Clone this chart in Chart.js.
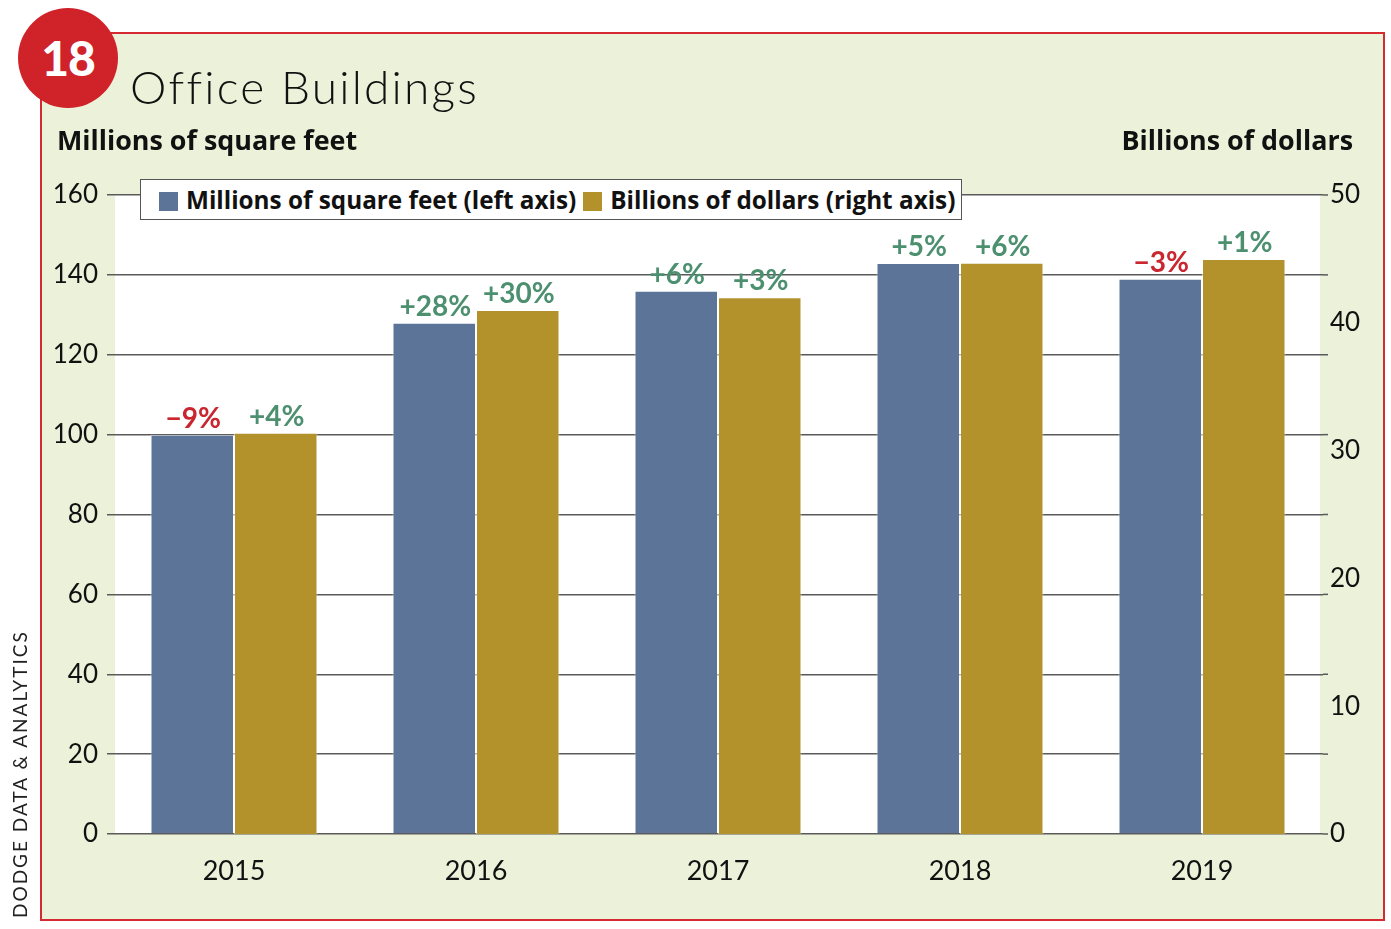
<!DOCTYPE html>
<html>
<head>
<meta charset="utf-8">
<script src="https://cdn.jsdelivr.net/npm/chart.js@4.4.0/dist/chart.umd.min.js"></script>
<style>
  html, body { margin: 0; padding: 0; background: #fff; }
  #wrap { position: relative; width: 1391px; height: 929px; background: #fff; font-family: Lato, "Open Sans", sans-serif; }
  #frame { position: absolute; left: 40px; top: 32px; width: 1341px; height: 885px; background: #ecf2d9; border: 2px solid #d42a30; }
  #chartBox { position: absolute; left: 0; top: 0; width: 1391px; height: 929px; }
  #badge { position: absolute; left: 18px; top: 8px; width: 100px; height: 100px; border-radius: 50%; background: #cf2229; color: #fff; font-weight: 900; font-size: 48px; line-height: 100px; text-align: center; letter-spacing: -1px; }
  #title { position: absolute; left: 130px; top: 62px; font-size: 46px; font-weight: 300; line-height: 50px; letter-spacing: 2.2px; color: #111; }
  .axTitle { position: absolute; top: 124px; font-family: "Open Sans", sans-serif; font-size: 26.9px; font-weight: 700; line-height: 32px; color: #111; }
  #legend { position: absolute; left: 140px; top: 179px; width: 820px; height: 39px; background: #fff; border: 1.5px solid #555; font-family: "Open Sans", sans-serif; font-size: 24.3px; font-weight: 700; line-height: 39px; color: #111; white-space: nowrap; }
  #legend span.sw { display: inline-block; width: 19px; height: 19px; vertical-align: -2px; margin-right: 8px; }
  #source { position: absolute; left: 8px; top: 918px; transform-origin: 0 0; transform: rotate(-90deg); font-size: 19px; letter-spacing: 2px; color: #222; white-space: nowrap; }
</style>
</head>
<body>
<div id="wrap">
  <div id="frame"></div>
  <div id="chartBox"><canvas id="grafico"></canvas></div>
  <div id="badge">18</div>
  <div id="title">Office Buildings</div>
  <div class="axTitle" style="left:57px;">Millions of square feet</div>
  <div class="axTitle" style="right:38px;">Billions of dollars</div>
  <div id="legend"><span style="margin-left:18px"></span><span class="sw" style="background:#5b7498"></span>Millions of square feet (left axis)<span class="sw" style="background:#b3922c;margin-left:7px"></span>Billions of dollars (right axis)</div>
  <div id="source">DODGE DATA &amp; ANALYTICS</div>
</div>
<script>
// dados
var anos = ["2015", "2016", "2017", "2018", "2019"];
var pesQuadrados = [100, 128, 136, 143, 139];   // millions of sq ft
var dolares = [31.4, 41.0, 42.0, 44.7, 45.0];   // billions of dollars
var variacaoPes = ["\u22129%", "+28%", "+6%", "+5%", "\u22123%"];
var variacaoDolares = ["+4%", "+30%", "+3%", "+6%", "+1%"];
var ticksEsquerda = [0, 20, 40, 60, 80, 100, 120, 140, 160];
var ticksDireita = [0, 10, 20, 30, 40, 50];

var AZUL = "#5b7498";
var OURO = "#b3922c";
var VERDE = "#4c9070";
var VERMELHO = "#c92630";

// fundo branco da area do grafico
var fundoBranco = {
	id: "fundoBranco",
	beforeDraw: function(chart){
		var a = chart.chartArea;
		var ctx = chart.ctx;
		ctx.save();
		ctx.fillStyle = "#ffffff";
		ctx.fillRect(a.left + 2, a.top, a.right - a.left - 5, a.bottom - a.top);
		ctx.restore();
	}
};

// tracinhos da grade do lado direito
var grelhaDireita = {
	id: "grelhaDireita",
	beforeDatasetsDraw: function(chart){
		var y = chart.scales.y;
		var a = chart.chartArea;
		var ctx = chart.ctx;
		ctx.save();
		ctx.strokeStyle = "#5a5a5a";
		ctx.lineWidth = 1.5;
		y.ticks.forEach(function(t){
			var py = y.getPixelForValue(t.value);
			ctx.beginPath();
			ctx.moveTo(a.right, py);
			ctx.lineTo(a.right + 5, py);
			ctx.stroke();
		});
		ctx.restore();
	}
};

// rotulos de variacao
var rotulos = {
	id: "rotulos",
	afterDatasetsDraw: function(chart){
		var ctx = chart.ctx;
		var listas = [variacaoPes, variacaoDolares];
		ctx.save();
		ctx.font = "700 28px Lato";
		ctx.textAlign = "center";
		ctx.textBaseline = "alphabetic";
		for (var d = 0; d < 2; d++) {
			var meta = chart.getDatasetMeta(d);
			for (var i = 0; i < meta.data.length; i++) {
				var txt = listas[d][i];
				var bar = meta.data[i];
				ctx.fillStyle = txt.charAt(0) === "+" ? VERDE : VERMELHO;
				ctx.fillText(txt, bar.x + 1, bar.y - 7);
			}
		}
		ctx.restore();
	}
};

var contexto = document.getElementById("grafico");
var grafico = new Chart(contexto, {
	type: "bar",
	data: {
		labels: anos,
		datasets: [
			{
				label: "Millions of square feet (left axis)",
				data: pesQuadrados,
				backgroundColor: AZUL,
				borderColor: "rgba(255,255,255,0.55)",
				borderWidth: 1,
				borderSkipped: "bottom",
				yAxisID: "y"
			},
			{
				label: "Billions of dollars (right axis)",
				data: dolares,
				backgroundColor: OURO,
				borderColor: "rgba(255,255,255,0.55)",
				borderWidth: 1,
				borderSkipped: "bottom",
				yAxisID: "y2"
			}
		]
	},
	options: {
		responsive: true,
		maintainAspectRatio: false,
		animation: false,
		categoryPercentage: 0.69,
		barPercentage: 1.0,
		layout: { padding: { top: 195, bottom: 35, left: 0, right: 0 } },
		plugins: {
			legend: { display: false },
			tooltip: { enabled: false }
		},
		scales: {
			x: {
				grid: { display: false, drawTicks: false },
				border: { display: false },
				ticks: { color: "#111", font: { family: "Lato", size: 27 }, padding: 21 },
				afterFit: function(s){ s.height = 60; }
			},
			y: {
				position: "left",
				min: 0,
				max: 160,
				afterBuildTicks: function(s){ s.ticks = ticksEsquerda.map(function(v){ return { value: v }; }); },
				grid: { color: "#5a5a5a", lineWidth: 1.5, tickLength: 6, drawTicks: true },
				border: { display: false },
				ticks: { color: "#111", font: { family: "Lato", size: 26 }, padding: 9 },
				afterFit: function(s){ s.width = 113; }
			},
			y2: {
				position: "right",
				min: 0,
				max: 50,
				afterBuildTicks: function(s){ s.ticks = ticksDireita.map(function(v){ return { value: v }; }); },
				grid: { display: false, drawTicks: false },
				border: { display: false },
				ticks: { color: "#111", font: { family: "Lato", size: 26 }, padding: 7 },
				afterFit: function(s){ s.width = 68; }
			}
		}
	},
	plugins: [fundoBranco, grelhaDireita, rotulos]
});
</script>
</body>
</html>
